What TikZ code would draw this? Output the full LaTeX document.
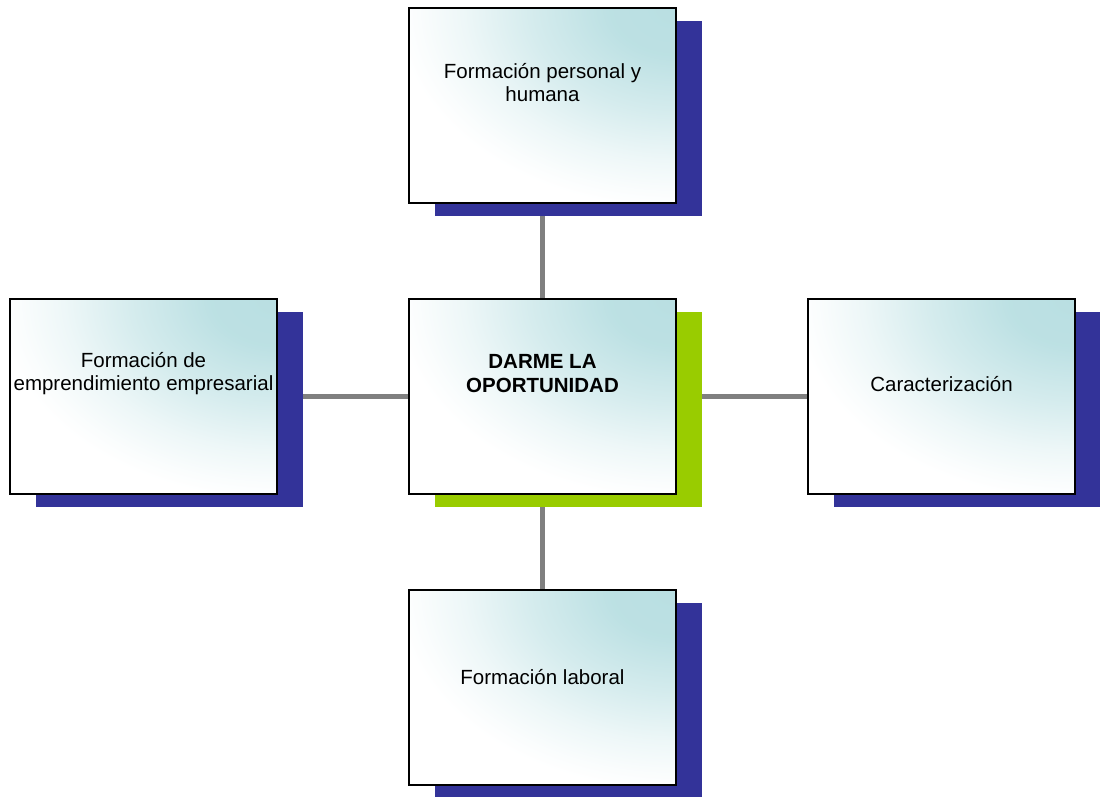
\documentclass[tikz,border=0pt]{standalone}
\usepackage{fontspec}
\setmainfont{Liberation Sans}
\usetikzlibrary{shadows,backgrounds}
\definecolor{teal1}{HTML}{B9DFE2}
\definecolor{navy1}{HTML}{333399}
\definecolor{green1}{HTML}{99CC00}
\definecolor{link}{HTML}{808080}
\pgfdeclareradialshading{boxglow}{\pgfpoint{0bp}{0bp}}{%
  color(0bp)=(teal1); color(6bp)=(teal1!95!white); color(13bp)=(teal1!60!white);
  color(19bp)=(teal1!25!white); color(23bp)=(teal1!7!white); color(25bp)=(white); color(50bp)=(white)}
\tikzset{
  boxbase/.style={rectangle, draw=black, fill=white, line width=1.6pt, minimum width=267pt, minimum height=195pt, inner sep=0pt,
    path picture={\shade[shading=boxglow] (path picture bounding box.north east) ellipse (280pt and 200pt);}},
  bluebox/.style={boxbase, general shadow={shadow xshift=26pt, shadow yshift=-13pt, fill=navy1}},
  greenbox/.style={boxbase, general shadow={shadow xshift=26pt, shadow yshift=-13pt, fill=green1}},
  lbl/.style={align=center, inner sep=0pt, font=\fontsize{20.5}{23}\selectfont},
  conn/.style={draw=link, line width=5pt}
}
\begin{document}
\begin{tikzpicture}[x=1pt,y=-1pt]
\useasboundingbox (0,0) rectangle (1100,796);
\node[bluebox] (top) at (542.5,105.5) {};
\node[greenbox] (mid) at (542.5,396.5) {};
\node[bluebox] (left) at (143.5,396.5) {};
\node[bluebox] (right) at (941.5,396.5) {};
\node[bluebox] (bot) at (542.5,687.5) {};
\begin{scope}[on background layer]
\fill[white] (0,0) rectangle (1100,796);
\draw[conn] (top.south) -- (mid.north);
\draw[conn] (mid.south) -- (bot.north);
\draw[conn] (left.east) -- (mid.west);
\draw[conn] (mid.east) -- (right.west);
\end{scope}
\node[lbl] (ttop) at (542.5,83) {Formación personal y\\humana};
\node[lbl, font=\fontsize{20.5}{24}\bfseries\selectfont] (tmid) at (542.5,374) {DARME LA\\OPORTUNIDAD};
\node[lbl] (tleft) at (143.5,374) {Formación de\\emprendimiento empresarial};
\node[lbl] (tright) at (941.5,384.5) {Caracterización};
\node[lbl] (tbot) at (542.5,677) {Formación laboral};
\end{tikzpicture}
\end{document}
